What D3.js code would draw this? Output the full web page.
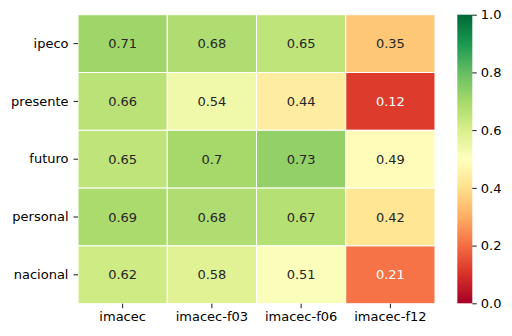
<!DOCTYPE html>
<html><head><meta charset="utf-8">
<script src="https://cdn.jsdelivr.net/npm/d3@7"></script>
<style>body{margin:0;background:#fff}svg{display:block}text{font-family:"DejaVu Sans",sans-serif}</style>
</head><body><svg id="c" width="512" height="336"></svg>
<script>
const rows = ["ipeco","presente","futuro","personal","nacional"];
const cols = ["imacec","imacec-f03","imacec-f06","imacec-f12"];
const values = [
  [0.71,0.68,0.65,0.35],
  [0.66,0.54,0.44,0.12],
  [0.65,0.70,0.73,0.49],
  [0.69,0.68,0.67,0.42],
  [0.62,0.58,0.51,0.21]
];
const cbTicks = [0.0,0.2,0.4,0.6,0.8,1.0];
const brewer = ["#a50026","#d73027","#f46d43","#fdae61","#fee08b","#ffffbf","#d9ef8b","#a6d96a","#66bd63","#1a9850","#006837"];

const svg = d3.select("#c");
const L=78,R=435,T=14.7,B=303.7;
const x = d3.scaleBand().domain(cols).range([L,R]);
const y = d3.scaleBand().domain(rows).range([T,B]);
const color = d3.scaleLinear().domain(d3.range(11).map(i=>i/10)).range(brewer).interpolate(d3.interpolateRgb).clamp(true);

function lum(c){
  const rgb=d3.rgb(c);
  const f=v=>{v/=255;return v<=0.03928?v/12.92:Math.pow((v+0.055)/1.055,2.4);};
  return 0.2126*f(rgb.r)+0.7152*f(rgb.g)+0.0722*f(rgb.b);
}
const fmt = d3.format(".2~g");

const cells = [];
values.forEach((r,i)=>r.forEach((v,j)=>cells.push({row:rows[i],col:cols[j],v})));

const g = svg.append("g");
g.selectAll("rect").data(cells).join("rect")
  .attr("x",d=>x(d.col)).attr("y",d=>y(d.row))
  .attr("width",x.bandwidth()).attr("height",y.bandwidth())
  .attr("fill",d=>color(d.v)).attr("stroke","#fff").attr("stroke-width",1);
g.selectAll("text").data(cells).join("text")
  .attr("x",d=>x(d.col)+x.bandwidth()/2).attr("y",d=>y(d.row)+y.bandwidth()/2)
  .attr("text-anchor","middle").attr("dominant-baseline","central")
  .attr("font-size",13)
  .attr("fill",d=>lum(color(d.v))>0.408?"#262626":"#fff")
  .text(d=>fmt(d.v));

// axes
const ax = svg.append("g").attr("transform",`translate(0,${B})`)
  .call(d3.axisBottom(x).tickSize(4.5).tickPadding(4));
const ay = svg.append("g").attr("transform",`translate(${L},0)`)
  .call(d3.axisLeft(y).tickSize(4.5).tickPadding(5));
[ax,ay].forEach(a=>{
  a.select(".domain").remove();
  a.selectAll("text").attr("font-size",13).attr("fill","#000").attr("font-family","DejaVu Sans");
  a.selectAll("line").attr("stroke","#000").attr("stroke-width",0.9);
});

// colorbar
const cbX=457.3, cbW=15;
const cy = d3.scaleLinear().domain([0,1]).range([B-0.4,T]);
const defs = svg.append("defs");
const grad = defs.append("linearGradient").attr("id","cb").attr("x1",0).attr("y1",1).attr("x2",0).attr("y2",0);
d3.range(0,1.0001,0.05).forEach(t=>grad.append("stop").attr("offset",t).attr("stop-color",color(t)));
svg.append("rect").attr("x",cbX).attr("y",cy(1)).attr("width",cbW).attr("height",cy(0)-cy(1)).attr("fill","url(#cb)");
const ac = svg.append("g").attr("transform",`translate(${cbX+cbW},0)`)
  .call(d3.axisRight(cy).tickValues(cbTicks).tickFormat(d3.format(".1f")).tickSize(4.5).tickPadding(4));
ac.select(".domain").remove();
ac.selectAll("text").attr("font-size",13).attr("fill","#000").attr("font-family","DejaVu Sans");
ac.selectAll("line").attr("stroke","#000").attr("stroke-width",0.9);
</script></body></html>
